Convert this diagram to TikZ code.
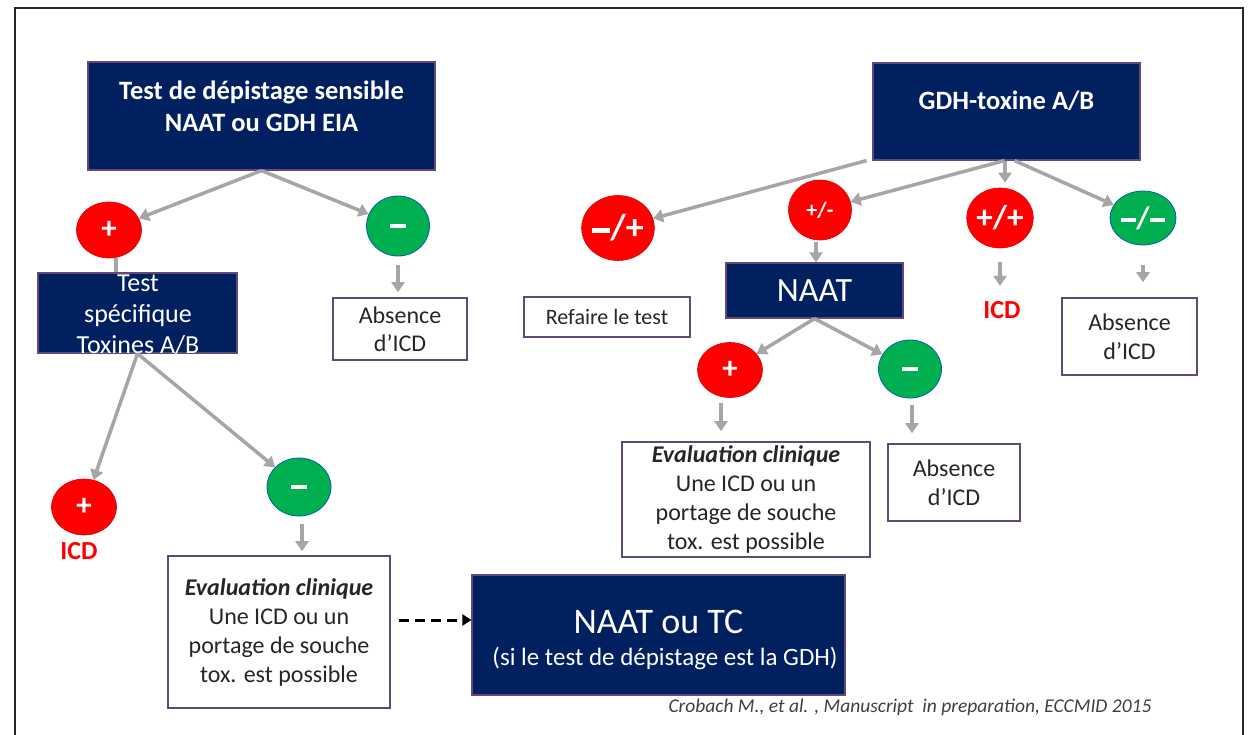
\documentclass[tikz,border=0pt]{standalone}
\usepackage{fontspec}
\setmainfont{Carlito}
\usetikzlibrary{shapes.geometric,arrows.meta}
\definecolor{navyc}{RGB}{0,32,96}
\definecolor{purpc}{RGB}{96,74,123}
\definecolor{redc}{RGB}{255,0,0}
\definecolor{greenc}{RGB}{0,176,80}
\definecolor{greyc}{RGB}{166,166,166}
\definecolor{citec}{RGB}{64,64,64}
\newcommand\myfs[2]{\fontsize{#1}{#2}\selectfont}
\newcommand\mybar{\raisebox{0.2em}{\rule{0.5em}{0.12em}}}
\newcommand\mybarc{\rule{0.52em}{0.13em}}
\begin{document}
\begin{tikzpicture}[x=1pt,y=-1pt,
  navybox/.style={rectangle, fill=navyc, draw=purpc, line width=1.2pt, inner sep=0pt, text=white, align=center},
  wbox/.style={rectangle, fill=white, draw=purpc, line width=1.6pt, inner sep=0pt, align=center, text=black!85},
  wtext/.style={text=white, align=center, inner sep=0pt},
  rdot/.style={ellipse, fill=redc, draw=red!85!black, line width=0.6pt, inner sep=0pt, text=white},
  gdot/.style={ellipse, fill=greenc, draw=blue!45!greenc, line width=0.8pt, inner sep=0pt, text=white},
  arr/.style={draw=greyc, line width=3.5pt, -{Triangle[width=13pt,length=10pt]}},
  darr/.style={draw=black, line width=3pt, dash pattern=on 10pt off 6pt, -{Triangle[width=11pt,length=9pt]}},
  redtxt/.style={text=redc, font=\bfseries\myfs{26}{26}}
]
\useasboundingbox (0,0) rectangle (1255,734);
\fill[white] (0,0) rectangle (1255,734);
% frame
\draw[line width=1.6pt, black!85] (15,745) -- (15,8) -- (1243,8) -- (1243,745);

% ---------- left tree ----------
\node[navybox, minimum width=347pt, minimum height=108pt] (b1) at (261.5,116) {};
\node[wtext, font=\bfseries\myfs{26.5}{32}] (b1t) at (261.5,106) {Test de dépistage sensible\\NAAT ou GDH EIA};

\node[rdot, minimum width=65pt, minimum height=56pt, font=\bfseries\myfs{31}{31}] (c1) at (109,230) {+};
\node[gdot, minimum width=63pt, minimum height=60pt, font=\bfseries\myfs{31}{31}] (c2) at (398,226) {\mybarc};
\draw[arr] (b1.south) -- (c1);
\draw[arr] (b1.south) -- (c2);

\draw[greyc, line width=3.5pt] ([xshift=7pt]c1.south) -- ([xshift=7pt,yshift=-4pt]c1.south |- 0,273);
\node[navybox, minimum width=199pt, minimum height=80pt] (b2) at (137.5,313) {};
\node[wtext, font=\myfs{26}{31}] (b2t) at (138,315) {Test\\spécifique\\Toxines A/B};

\node[wbox, minimum width=134pt, minimum height=62pt, font=\myfs{24}{28}] (a1) at (400,329) {Absence\\d’ICD};
\draw[arr, shorten <=9pt, shorten >=5pt] (c2.south) -- (c2.south |- a1.north);

\node[rdot, minimum width=65pt, minimum height=56pt, font=\bfseries\myfs{31}{31}] (c3) at (84,507) {+};
\node[redtxt] (icd1) at (79,551) {ICD};
\node[gdot, minimum width=64pt, minimum height=58pt, font=\bfseries\myfs{31}{31}] (c4) at (299,487) {\mybarc};
\draw[arr] (b2.south) -- (c3);
\draw[arr] (b2.south) -- (c4);

\node[wbox, minimum width=222pt, minimum height=152pt, font=\myfs{24}{29}] (e1) at (279,632)
  {\textbf{\textit{Evaluation clinique}}\\Une ICD ou un\\portage de souche\\tox. est possible};
\draw[arr, shorten <=8pt, shorten >=4pt] ([xshift=3pt]c4.south) -- ([xshift=3pt]c4.south |- e1.north);

\node[navybox, minimum width=373pt, minimum height=120pt] (n1) at (658.5,635) {};
\node[wtext, font=\myfs{36}{36}] (n1t) at (658.5,622) {NAAT ou TC};
\node[wtext, font=\myfs{25}{25}] (n1s) at (665,658) {(si le test de dépistage est la GDH)};
\draw[darr, shorten <=8pt] ([yshift=12pt]e1.east) -- ([yshift=12pt]e1.east -| n1.west);

\node[text=citec, font=\itshape\myfs{19.5}{19.5}] (cite) at (910,707) {Crobach M., et al. , Manuscript\ \ in preparation, ECCMID 2015};

% ---------- right tree ----------
\node[navybox, minimum width=267pt, minimum height=97pt] (gdh) at (1006.5,111.5) {};
\node[wtext, font=\bfseries\myfs{26.5}{30}] (gdht) at (1006.5,101) {GDH-toxine A/B};

\node[rdot, minimum width=67pt, minimum height=65pt, font=\bfseries\myfs{36}{36}] (c5) at (618,228) {\mybar/+};
\node[rdot, minimum width=63pt, minimum height=60pt, font=\bfseries\myfs{22}{22}] (c6) at (820,210) {+/-};
\node[rdot, minimum width=64pt, minimum height=60pt, font=\bfseries\myfs{33}{33}] (c7) at (1000,218) {+/+};
\node[gdot, minimum width=66pt, minimum height=54pt, font=\bfseries\myfs{31}{31}] (c8) at (1143,218) {\mybar/\mybar};

\draw[arr] ([xshift=-6pt]gdh.south west) -- (c5);
\draw[arr] ([xshift=-2pt]gdh.south) -- (c6);
\draw[arr, shorten >=5pt] ([xshift=-1.5pt]gdh.south) -- ([xshift=-1.5pt]gdh.south |- c7.north);
\draw[arr] ([xshift=8pt]gdh.south) -- (c8);

\node[navybox, minimum width=177pt, minimum height=55pt, font=\myfs{34}{34}] (naat) at (814.5,290.5) {NAAT};
\draw[arr, shorten <=2pt] ([xshift=-4pt]c6.south) -- ([xshift=-4pt]c6.south |- naat.north);

\node[wbox, minimum width=166pt, minimum height=40pt, font=\myfs{22}{22}] (ref) at (607,317) {Refaire le test};

\node[redtxt] (icd2) at (1002,310) {ICD};
\draw[arr, shorten <=14pt, shorten >=12pt] (c7.south) -- (c7.south |- icd2.north);

\node[wbox, minimum width=135pt, minimum height=77pt, font=\myfs{24}{29}] (a3) at (1129.5,336.5) {Absence\\d’ICD};
\draw[arr, shorten <=20pt, shorten >=15pt] (c8.south) -- (c8.south |- a3.north);

\node[rdot, minimum width=65pt, minimum height=55pt, font=\bfseries\myfs{31}{31}] (c9) at (730,370) {+};
\node[gdot, minimum width=63pt, minimum height=58pt, font=\bfseries\myfs{31}{31}] (c10) at (910,369) {\mybarc};
\draw[arr] (naat.south) -- (c9);
\draw[arr] (naat.south) -- (c10);

\node[wbox, minimum width=248pt, minimum height=115pt, font=\myfs{24}{28.7}] (e2) at (746,499.5)
  {\textbf{\textit{Evaluation clinique}}\\Une ICD ou un\\portage de souche\\tox. est possible};
\draw[arr, shorten <=5pt, shorten >=10pt] ([xshift=-9pt]c9.south) -- ([xshift=-9pt]c9.south |- e2.north);

\node[wbox, minimum width=132pt, minimum height=77pt, font=\myfs{24}{29}] (a2) at (954,482.5) {Absence\\d’ICD};
\draw[arr, shorten <=7pt, shorten >=10pt] ([xshift=2pt]c10.south) -- ([xshift=2pt]c10.south |- a2.north);
\end{tikzpicture}
\end{document}
